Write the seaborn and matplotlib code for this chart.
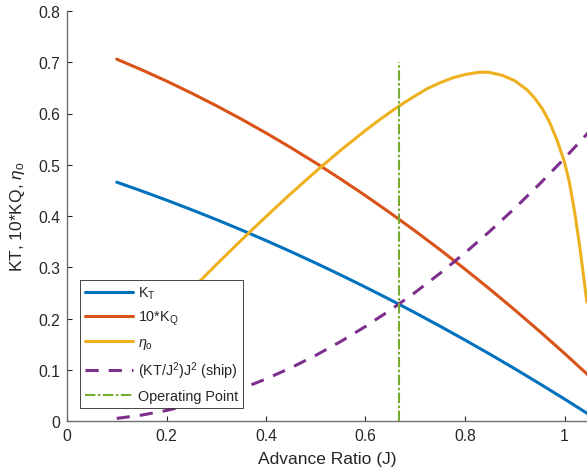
import matplotlib
matplotlib.use("Agg")
import matplotlib.pyplot as plt
import seaborn as sns
import pandas as pd

# Advance ratio grid and open-water propeller characteristics
J = [0.10, 0.15, 0.20, 0.25, 0.30, 0.35, 0.40, 0.45, 0.50, 0.55,
     0.60, 0.65, 0.70, 0.75, 0.80, 0.85, 0.90, 0.95, 1.00, 1.05]
KT = [0.4660, 0.4489, 0.4310, 0.4124, 0.3931, 0.3730, 0.3521, 0.3305, 0.3081, 0.2850,
      0.2611, 0.2365, 0.2111, 0.1849, 0.1580, 0.1304, 0.1020, 0.0728, 0.0429, 0.0122]
KQ10 = [0.7060, 0.6853, 0.6633, 0.6399, 0.6153, 0.5893, 0.5620, 0.5334, 0.5035, 0.4722,
        0.4397, 0.4058, 0.3706, 0.3341, 0.2963, 0.2572, 0.2167, 0.1750, 0.1319, 0.0875]
SHIP = [0.0051, 0.0115, 0.0205, 0.0320, 0.0461, 0.0628, 0.0820, 0.1038, 0.1281, 0.1550,
        0.1845, 0.2165, 0.2511, 0.2883, 0.3280, 0.3703, 0.4151, 0.4625, 0.5125, 0.5650]

# Open-water efficiency (finer grid near the peak and the steep drop)
J_ETA = [0.10, 0.15, 0.20, 0.25, 0.30, 0.35, 0.40, 0.45, 0.50, 0.55, 0.60, 0.625,
         0.65, 0.675, 0.70, 0.725, 0.75, 0.775, 0.80, 0.825, 0.8375, 0.85, 0.875,
         0.90, 0.925, 0.94, 0.955, 0.97, 0.985, 1.00, 1.01, 1.02, 1.03, 1.04, 1.045]
ETA = [0.1050, 0.1564, 0.2068, 0.2564, 0.3050, 0.3526, 0.3988, 0.4438, 0.4869, 0.5283,
       0.5670, 0.5854, 0.6029, 0.6193, 0.6346, 0.6490, 0.6600, 0.6695, 0.6760, 0.6800,
       0.6808, 0.6800, 0.6745, 0.6640, 0.6460, 0.6300, 0.6100, 0.5830, 0.5480, 0.5050,
       0.4650, 0.4100, 0.3450, 0.2700, 0.2320]

# Operating point
J_OP = 0.6667
OP_TOP = 0.70

LABELS = [r"K$_\mathrm{T}$", r"10*K$_\mathrm{Q}$", r"$\eta_\mathrm{o}$",
          r"(KT/J$^\mathrm{2}$)J$^\mathrm{2}$ (ship)", "Operating Point"]
COLORS = ["#0072BD", "#D95319", "#EDB120", "#7E2F8E", "#77AC30"]

sns.set_style("ticks")
plt.rcParams.update({
    "font.family": ["Liberation Sans", "DejaVu Sans"],
    "mathtext.fontset": "custom",
    "mathtext.rm": "Liberation Sans",
    "mathtext.it": "Liberation Sans:italic",
    "mathtext.bf": "Liberation Sans:bold",
    "xtick.direction": "in",
    "ytick.direction": "in",
    "xtick.major.size": 3.5,
    "ytick.major.size": 3.5,
    "xtick.major.width": 0.8,
    "ytick.major.width": 0.8,
    "xtick.color": "#262626",
    "ytick.color": "#262626",
    "axes.edgecolor": "#6e6e6e",
    "axes.linewidth": 1.0,
})

W, H = 587, 477
fig = plt.figure(figsize=(W / 100, H / 100), dpi=100)
ax = fig.add_axes([67 / W, 55 / H, 520 / W, 410 / H])

df = pd.DataFrame({"J": J, "KT": KT, "KQ10": KQ10, "SHIP": SHIP})
df_eta = pd.DataFrame({"J": J_ETA, "ETA": ETA})

lw = 2.2
sns.lineplot(data=df, x="J", y="KT", ax=ax, color=COLORS[0], lw=lw, label=LABELS[0])
sns.lineplot(data=df, x="J", y="KQ10", ax=ax, color=COLORS[1], lw=lw, label=LABELS[1])
sns.lineplot(data=df_eta, x="J", y="ETA", ax=ax, color=COLORS[2], lw=lw, label=LABELS[2])
sns.lineplot(data=df, x="J", y="SHIP", ax=ax, color=COLORS[3], lw=lw,
             linestyle="--", label=LABELS[3])
ax.lines[-1].set_dashes((4.3, 3.3))
sns.lineplot(x=[J_OP, J_OP], y=[0.0, OP_TOP], ax=ax, color=COLORS[4], lw=1.5,
             estimator=None, sort=False, linestyle="-.", label=LABELS[4])
ax.lines[-1].set_dashes((5, 1.2, 1.2, 1.2))
for ln in ax.lines:
    ln.set_solid_joinstyle("round")

ax.set_xlim(0, 520 / 497.5)
ax.set_ylim(0, 0.8)
ax.set_xticks([0, 0.2, 0.4, 0.6, 0.8, 1.0])
ax.set_xticklabels(["0", "0.2", "0.4", "0.6", "0.8", "1"])
ax.set_yticks([0, 0.1, 0.2, 0.3, 0.4, 0.5, 0.6, 0.7, 0.8])
ax.set_yticklabels(["0", "0.1", "0.2", "0.3", "0.4", "0.5", "0.6", "0.7", "0.8"])
ax.tick_params(labelsize=11.3, pad=5)
sns.despine(ax=ax)

ax.set_xlabel("Advance Ratio (J)", fontsize=12.5, color="#262626", labelpad=6)
ax.set_ylabel(r"KT, 10*KQ, $\eta_\mathrm{o}$", fontsize=12.5, color="#262626", labelpad=8)

leg = ax.legend(loc="lower left", bbox_to_anchor=(0.025, 0.032), borderaxespad=0,
                fontsize=10.4, handlelength=3.3, handletextpad=0.35,
                labelspacing=0.55, borderpad=0.35, fancybox=False, framealpha=1,
                edgecolor="#262626", facecolor="white")
leg.get_frame().set_linewidth(0.6)
for t in leg.get_texts():
    t.set_color("#262626")

fig.savefig("out.png", dpi=100)
